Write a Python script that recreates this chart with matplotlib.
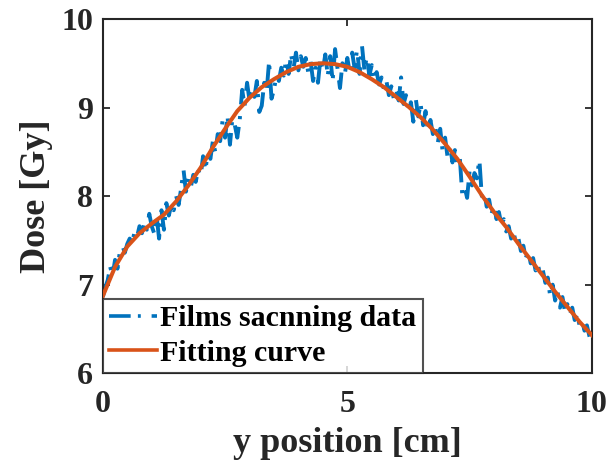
import numpy as np
import matplotlib
matplotlib.use("Agg")
import matplotlib.pyplot as plt

# ---- data ----
fit_x = [0.00, 0.25, 0.50, 0.75, 1.00, 1.25, 1.50, 1.75, 2.00, 2.25, 2.50,
         2.75, 3.00, 3.25, 3.50, 3.75, 4.00, 4.25, 4.50, 4.75, 5.00,
         5.25, 5.50, 5.75, 6.00, 6.25, 6.50, 6.75, 7.00, 7.25, 7.50,
         7.75, 8.00, 8.25, 8.50, 8.75, 9.00, 9.25, 9.50, 9.75, 10.00]
fit_y = [6.87, 7.20, 7.43, 7.58, 7.69, 7.79, 7.94, 8.12, 8.32, 8.55, 8.76,
         8.96, 9.11, 9.23, 9.32, 9.40, 9.46, 9.49, 9.50, 9.49, 9.46,
         9.40, 9.32, 9.23, 9.12, 9.01, 8.89, 8.75, 8.59, 8.42, 8.22,
         8.01, 7.82, 7.65, 7.46, 7.28, 7.10, 6.92, 6.75, 6.58, 6.43]

film_y = [
    6.86, 6.97, 7.05, 7.20, 7.10, 7.28, 7.18, 7.38, 7.44, 7.36,
    7.46, 7.52, 7.47, 7.60, 7.54, 7.66, 7.58, 7.70, 7.62, 7.80,
    7.66, 7.58, 7.78, 7.52, 7.84, 7.62, 7.92, 7.78, 7.90, 7.84,
    8.00, 7.90, 8.08, 8.30, 8.05, 8.20, 8.10, 8.24, 8.16, 8.30,
    8.22, 8.45, 8.30, 8.50, 8.42, 8.62, 8.50, 8.70, 8.62, 8.86,
    8.66, 8.90, 8.58, 8.88, 8.80, 8.66, 8.86, 9.20, 9.02, 9.28,
    9.08, 9.22, 9.12, 9.30, 8.95, 9.02, 9.28, 9.18, 9.52, 9.10,
    9.20, 9.36, 9.30, 9.45, 9.36, 9.55, 9.38, 9.60, 9.44, 9.62,
    9.42, 9.58, 9.46, 9.56, 9.40, 9.52, 9.30, 9.45, 9.28, 9.55,
    9.42, 9.60, 9.36, 9.58, 9.30, 9.66, 9.44, 9.22, 9.50, 9.38,
    9.56, 9.40, 9.62, 9.44, 9.66, 9.38, 9.70, 9.42, 9.58, 9.36,
    9.48, 9.30, 9.40, 9.26, 9.34, 9.20, 9.30, 9.14, 9.24, 9.10,
    9.20, 9.08, 9.34, 9.04, 9.14, 8.96, 9.06, 8.84, 9.10, 8.90,
    9.04, 8.80, 8.96, 8.72, 8.86, 8.70, 8.78, 8.60, 8.76, 8.50,
    8.66, 8.44, 8.58, 8.38, 8.52, 8.36, 8.44, 8.02, 8.10, 7.98,
    8.28, 8.12, 8.26, 8.20, 8.42, 8.00, 8.06, 7.88, 7.96, 7.80,
    7.90, 7.74, 7.82, 7.68, 7.74, 7.60, 7.66, 7.52, 7.60, 7.46,
    7.52, 7.38, 7.44, 7.30, 7.38, 7.24, 7.30, 7.16, 7.22, 7.10,
    7.16, 7.02, 7.08, 6.86, 7.00, 6.82, 6.92, 6.74, 6.86, 6.70,
    6.78, 6.66, 6.74, 6.60, 6.66, 6.54, 6.60, 6.48, 6.54, 6.42,
    6.34]
film_x = np.round(np.arange(len(film_y)) * 0.05, 2)

x_ticks = [0, 5, 10]
y_ticks = [6, 7, 8, 9, 10]
xlabel = "y position [cm]"
ylabel = "Dose [Gy]"
labels = ["Films sacnning data", "Fitting curve"]

# ---- style ----
plt.rcParams['font.family'] = ['Liberation Serif', 'DejaVu Serif']
plt.rcParams['font.weight'] = 'bold'

blue = '#0072BD'
orange = '#D95319'
axc = '#262626'

fig = plt.figure(figsize=(6.12, 4.63), dpi=100)
ax = fig.add_axes([0.168, 0.194, 0.799, 0.765])

ax.plot(film_x, film_y, color=blue, lw=2.8, dashes=[6, 2, 0.8, 3],
        label=labels[0], zorder=2)
ax.plot(fit_x, fit_y, color=orange, lw=2.9, label=labels[1], zorder=3)

ax.set_xlim(0, 10)
ax.set_ylim(6, 10)
ax.set_xticks(x_ticks)
ax.set_yticks(y_ticks)
ax.tick_params(direction='in', length=5, width=1.3, colors=axc,
               labelsize=23, top=True, right=True)
ax.tick_params(axis='x', pad=12)
ax.tick_params(axis='y', pad=7)
for lab in ax.get_xticklabels() + ax.get_yticklabels():
    lab.set_fontweight('bold')
for s in ax.spines.values():
    s.set_linewidth(1.5)
    s.set_color(axc)

ax.set_xlabel(xlabel, fontsize=26, fontweight='bold', color=axc, labelpad=6)
ax.set_ylabel(ylabel, fontsize=26, fontweight='bold', color=axc, labelpad=6)

leg = ax.legend(loc='lower left', bbox_to_anchor=(0, 0), fontsize=21.5,
                frameon=True, fancybox=False, borderpad=0.22,
                handlelength=1.6, handletextpad=0.1, labelspacing=0.25,
                borderaxespad=0)
leg.get_frame().set_edgecolor(axc)
leg.get_frame().set_linewidth(1.5)
for t in leg.get_texts():
    t.set_fontweight('bold')
    t.set_color('black')
for h in leg.legend_handles:
    h.set_linewidth(2.6)

fig.savefig('out.png', dpi=100)
